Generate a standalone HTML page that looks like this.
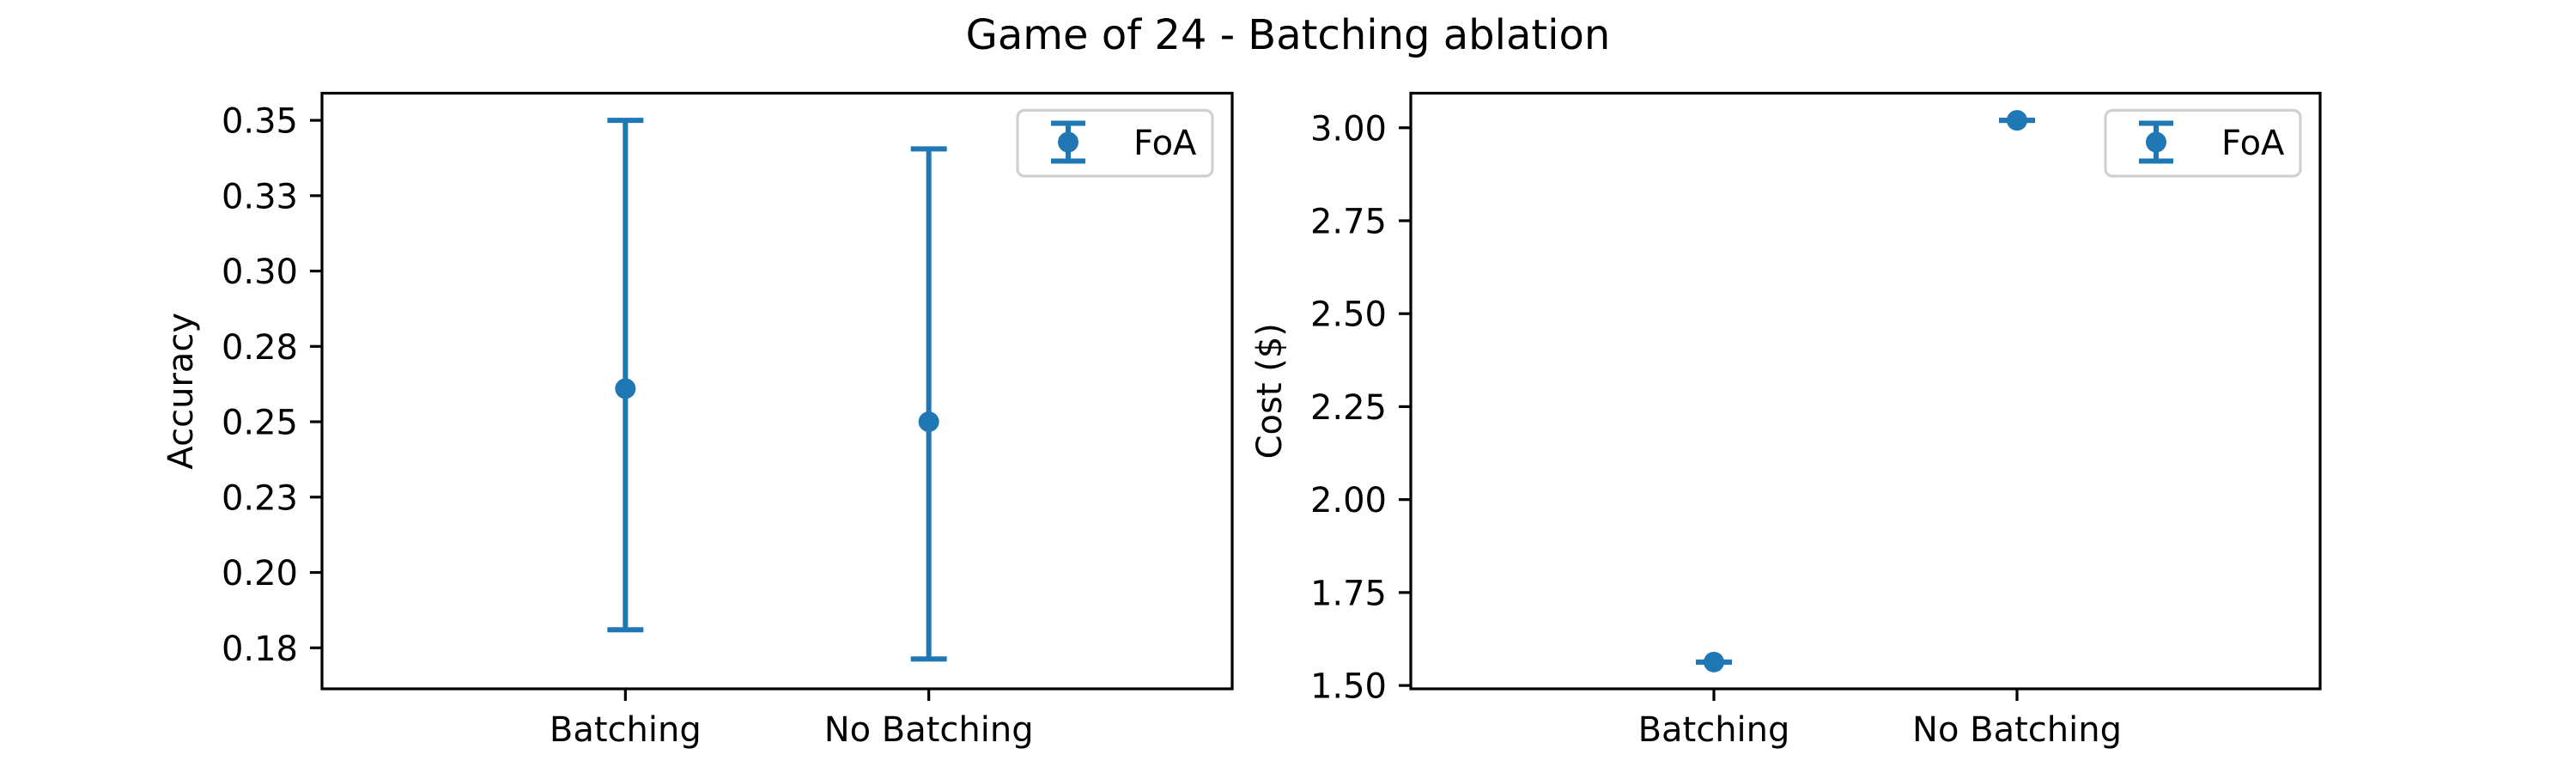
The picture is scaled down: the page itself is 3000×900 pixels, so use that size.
<!DOCTYPE html>
<html><head><meta charset="utf-8"><style>
html,body{margin:0;padding:0;background:#fff;}
svg{display:block;font-family:"DejaVu Sans","Liberation Sans",sans-serif;}
</style></head><body>
<svg id="fig" width="3000" height="900" viewBox="0 0 3000 900" xmlns="http://www.w3.org/2000/svg">
<rect width="3000" height="900" fill="#fff"/>
<text x="1500" y="57" font-size="48" text-anchor="middle">Game of 24 - Batching ablation</text>
</svg>
<script>
const categories = ["Batching", "No Batching"];
const accMeans = [0.261, 0.25];
const accErrLow = [0.080, 0.0787];
const accErrHigh = [0.089, 0.0905];
const accTicks = [0.175, 0.2, 0.225, 0.25, 0.275, 0.3, 0.325, 0.35];
const accTickLabels = ["0.18", "0.20", "0.23", "0.25", "0.28", "0.30", "0.33", "0.35"];
const costMeans = [1.563, 3.02];
const costErrLow = [0.0, 0.0];
const costErrHigh = [0.0, 0.0];
const costTicks = [1.5, 1.75, 2.0, 2.25, 2.5, 2.75, 3.0];
const costTickLabels = ["1.50", "1.75", "2.00", "2.25", "2.50", "2.75", "3.00"];
const seriesName = "FoA";

const NS = "http://www.w3.org/2000/svg";
const svg = document.getElementById("fig");
const C = "#1f77b4";
function mk(tag, attrs, parent) {
  const e = document.createElementNS(NS, tag);
  for (const k in attrs) e.setAttribute(k, attrs[k]);
  (parent || svg).appendChild(e);
  return e;
}
function panel(o) {
  const g = mk("g", {});
  
  
  const L = o.left, R = o.right, T = 108.5, B = 802;
  const xs = v => L + (v - (-1)) / 3 * (R - L);
  const ys = v => B - (v - o.ymin) / (o.ymax - o.ymin) * (B - T);
  o.ticks.forEach((t, i) => {
    const y = ys(t);
    const tk = mk("line", {x1: L - 14, x2: L, y1: y, y2: y, stroke: "#000", "stroke-width": 3.2}, g);
    
    
    const tx = mk("text", {x: L - 28, y: y + 14.5, "font-size": 40, "text-anchor": "end"}, g);
    tx.textContent = o.labels[i];
    
    
  });
  categories.forEach((c, i) => {
    const x = xs(i);
    const tk = mk("line", {x1: x, x2: x, y1: B, y2: B + 14, stroke: "#000", "stroke-width": 3.2}, g);
    
    
    const tx = mk("text", {x: x, y: 863, "font-size": 40, "text-anchor": "middle"}, g);
    tx.textContent = c;
    
    
  });
  const yl = mk("text", {x: 0, y: 0, "font-size": 40, "text-anchor": "middle", transform: `translate(${o.ylx},${(T + B) / 2}) rotate(-90)`}, g);
  yl.textContent = o.ylabel;
  
  
  o.means.forEach((m, i) => {
    const x = xs(i), y1 = ys(m + o.errHigh[i]), y0 = ys(m - o.errLow[i]), y = ys(m);
    const eg = mk("g", {}, g);
    
    
    mk("line", {x1: x, x2: x, y1: y1, y2: y0, stroke: C, "stroke-width": 6}, eg);
    mk("line", {x1: x - 21, x2: x + 21, y1: y1, y2: y1, stroke: C, "stroke-width": 6}, eg);
    mk("line", {x1: x - 21, x2: x + 21, y1: y0, y2: y0, stroke: C, "stroke-width": 6}, eg);
    const p = mk("circle", {cx: x, cy: y, r: 12, fill: C}, g);
    
    
  });
  const fr = mk("rect", {x: L, y: T, width: R - L, height: B - T, fill: "none", stroke: "#000", "stroke-width": 3.2}, g);
  
  
  const lg = mk("g", {}, g);
  
  
  const lx = R - 250, ly = 128.5;
  mk("rect", {x: lx, y: ly, width: 227, height: 76.5, rx: 8, fill: "#fff", "fill-opacity": 0.8, stroke: "#d0d0d0", "stroke-width": 3.2}, lg);
  const cx = lx + 59, cy = ly + 37;
  mk("line", {x1: cx, x2: cx, y1: cy - 22, y2: cy + 22, stroke: C, "stroke-width": 6}, lg);
  mk("line", {x1: cx - 20, x2: cx + 20, y1: cy - 22, y2: cy - 22, stroke: C, "stroke-width": 6}, lg);
  mk("line", {x1: cx - 20, x2: cx + 20, y1: cy + 22, y2: cy + 22, stroke: C, "stroke-width": 6}, lg);
  mk("circle", {cx: cx, cy: cy, r: 12, fill: C}, lg);
  const lt = mk("text", {x: lx + 135, y: cy + 14.5, "font-size": 40}, lg);
  lt.textContent = seriesName;
  
  
}
panel({name: "accuracy-panel", left: 375, right: 1435, ymin: 0.1614, ymax: 0.359, ticks: accTicks, labels: accTickLabels, means: accMeans, errLow: accErrLow, errHigh: accErrHigh, ylabel: "Accuracy", ylx: 224});
panel({name: "cost-panel", left: 1643, right: 2702, ymin: 1.491, ymax: 3.093, ticks: costTicks, labels: costTickLabels, means: costMeans, errLow: costErrLow, errHigh: costErrHigh, ylabel: "Cost ($)", ylx: 1492});
</script>
</body></html>
